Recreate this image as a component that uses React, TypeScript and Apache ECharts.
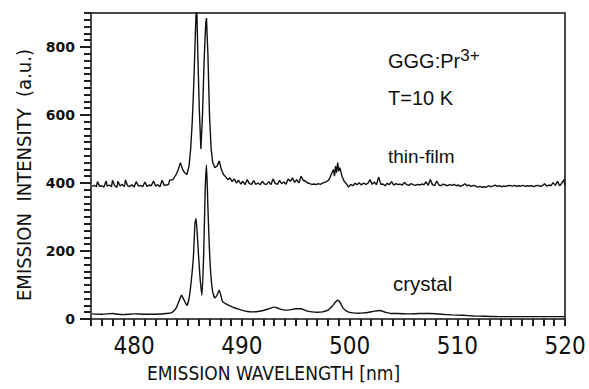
import React, { useEffect, useRef } from "react";
import * as echarts from "echarts";

const xMajorTicks = [480, 490, 500, 510, 520];
const yMajorTicks = [0, 200, 400, 600, 800];

const crystal: [number, number][] = [
  [476.1, 15], [477, 14], [478, 16], [478.5, 14], [479, 13], [480, 15], [481, 14], [482, 14],
  [483, 16], [483.5, 19], [483.9, 32], [484.2, 55], [484.4, 70], [484.6, 58], [484.9, 40],
  [485.1, 60], [485.3, 110], [485.5, 180], [485.65, 280], [485.75, 296], [485.9, 230],
  [486.1, 130], [486.3, 70], [486.45, 180], [486.6, 380], [486.72, 453], [486.85, 330],
  [487.0, 200], [487.15, 120], [487.3, 80], [487.5, 62], [487.7, 70], [487.9, 85],
  [488.05, 70], [488.2, 52], [488.5, 45], [488.8, 40], [489.2, 34], [489.6, 30], [490.0, 26],
  [490.5, 22], [491.0, 21], [491.5, 22], [492.0, 25], [492.5, 30], [493.0, 35], [493.5, 30],
  [494.0, 26], [494.5, 27], [495.0, 30], [495.5, 30], [496.0, 24], [496.5, 21], [497.0, 20],
  [497.5, 21], [498.0, 26], [498.4, 38], [498.7, 50], [498.9, 55], [499.1, 50], [499.4, 32],
  [499.8, 22], [500.3, 18], [500.8, 17], [501.3, 18], [501.8, 20], [502.3, 23], [502.8, 25],
  [503.3, 20], [503.8, 16], [504.5, 16], [505.5, 15], [506.5, 16], [507.5, 16], [508.5, 14],
  [509.5, 12], [510.5, 11], [511.5, 9], [512.5, 8], [514, 7], [516, 7], [518, 7], [520, 7],
];

const thinFilm: [number, number][] = [
  [476.1, 390], [476.3, 393], [476.5, 389], [476.6, 404], [476.8, 390], [477.0, 392],
  [477.2, 388], [477.4, 406], [477.5, 391], [477.7, 394], [477.9, 389], [478.0, 408],
  [478.2, 392], [478.4, 387], [478.5, 405], [478.7, 391], [478.9, 396], [479.1, 389],
  [479.2, 409], [479.4, 392], [479.6, 390], [479.8, 395], [480.0, 388], [480.2, 404],
  [480.4, 391], [480.6, 393], [480.8, 389], [481.0, 403], [481.2, 390], [481.4, 394],
  [481.6, 392], [481.8, 406], [482.0, 391], [482.2, 395], [482.4, 389], [482.6, 408],
  [482.8, 393], [483.0, 394], [483.2, 396], [483.3, 408], [483.6, 410], [483.9, 425],
  [484.1, 440], [484.3, 460], [484.5, 440], [484.7, 430], [484.9, 425], [485.1, 450],
  [485.25, 500], [485.4, 580], [485.55, 700], [485.7, 850], [485.8, 950], [485.9, 800],
  [486.05, 620], [486.2, 500], [486.35, 600], [486.5, 760], [486.65, 870], [486.72, 885],
  [486.85, 780], [487.0, 600], [487.15, 500], [487.3, 460], [487.5, 445], [487.7, 450],
  [487.9, 465], [488.1, 440], [488.3, 425], [488.5, 418], [488.7, 410], [488.9, 415],
  [489.1, 404], [489.3, 412], [489.5, 400], [489.7, 408], [489.9, 397], [490.1, 405],
  [490.3, 395], [490.5, 410], [490.7, 398], [490.9, 396], [491.1, 407], [491.3, 396],
  [491.5, 400], [491.7, 395], [491.9, 405], [492.1, 397], [492.3, 396], [492.5, 404],
  [492.7, 395], [492.9, 412], [493.1, 399], [493.3, 396], [493.5, 408], [493.7, 398],
  [493.9, 403], [494.1, 396], [494.3, 412], [494.5, 405], [494.7, 415], [494.9, 402],
  [495.1, 410], [495.3, 400], [495.5, 420], [495.7, 408], [495.9, 406], [496.1, 400],
  [496.3, 398], [496.5, 396], [496.7, 397], [496.9, 395], [497.1, 398], [497.3, 396],
  [497.5, 400], [497.7, 402], [497.9, 405], [498.1, 410], [498.3, 425], [498.5, 440],
  [498.6, 420], [498.7, 450], [498.8, 430], [498.9, 460], [499.0, 435], [499.1, 445],
  [499.3, 420], [499.5, 405], [499.7, 398], [499.9, 388], [500.1, 396], [500.3, 392],
  [500.5, 399], [500.7, 395], [500.9, 401], [501.1, 394], [501.3, 400], [501.5, 396],
  [501.7, 399], [501.9, 410], [502.1, 396], [502.3, 403], [502.5, 395], [502.7, 418],
  [502.9, 396], [503.1, 397], [503.3, 392], [503.5, 399], [503.7, 395], [503.9, 404],
  [504.1, 394], [504.3, 398], [504.5, 395], [504.7, 397], [504.9, 394], [505.1, 402],
  [505.3, 395], [505.5, 393], [505.7, 398], [505.9, 395], [506.1, 393], [506.3, 396],
  [506.5, 394], [506.7, 397], [506.9, 395], [507.1, 403], [507.3, 393], [507.5, 410],
  [507.7, 395], [507.9, 392], [508.1, 406], [508.3, 394], [508.5, 392], [508.7, 397],
  [508.9, 394], [509.1, 392], [509.3, 395], [509.5, 393], [509.7, 396], [509.9, 392],
  [510.1, 394], [510.3, 390], [510.5, 393], [510.7, 398], [510.9, 392], [511.1, 394],
  [511.3, 390], [511.5, 393], [511.7, 391], [511.9, 388], [512.1, 390], [512.3, 387],
  [512.5, 389], [512.7, 388], [512.9, 392], [513.1, 389], [513.3, 391], [513.5, 394],
  [513.7, 390], [513.9, 392], [514.1, 389], [514.3, 391], [514.5, 390], [514.7, 392],
  [514.9, 393], [515.1, 391], [515.3, 393], [515.5, 390], [515.7, 392], [515.9, 391],
  [516.1, 393], [516.3, 390], [516.5, 392], [516.7, 391], [516.9, 392], [517.1, 389],
  [517.3, 392], [517.5, 393], [517.7, 390], [517.9, 392], [518.1, 398], [518.3, 391],
  [518.5, 394], [518.7, 392], [518.9, 401], [519.1, 393], [519.3, 405], [519.5, 392],
  [519.7, 399], [519.9, 410], [520.0, 392],
];

const NARROW = "'DejaVu Sans Condensed', 'Liberation Sans Narrow', sans-serif";
const SANS = "'Liberation Sans', Arial, sans-serif";
const INK = "#111111";
const TICK = "#202020";

export default function App() {
  const ref = useRef<HTMLDivElement>(null);
  useEffect(() => {
    const chart = echarts.init(ref.current!, null, { renderer: "svg" });
    chart.setOption({
      animation: false,
      backgroundColor: "#fff",
      grid: {
        left: 91, right: 24, top: 13, bottom: 70,
        show: true, borderColor: INK, borderWidth: 1.5, backgroundColor: "transparent",
      },
      xAxis: {
        type: "value", min: 476, max: 520, interval: 1, position: "bottom",
        axisLine: { show: false, onZero: false },
        axisTick: { show: true, inside: false, length: 7, lineStyle: { color: TICK, width: 2 } },
        axisLabel: {
          show: true, margin: 15, color: INK, fontFamily: NARROW, fontSize: 24,
          formatter: (v: number) => (xMajorTicks.includes(v) ? String(v) : ""),
        },
        splitLine: { show: false },
      },
      yAxis: {
        type: "value", min: 0, max: 900, interval: 20, position: "left",
        axisLine: { show: false, onZero: false },
        axisTick: { show: true, inside: false, length: 7, lineStyle: { color: TICK, width: 2 } },
        axisLabel: {
          show: true, margin: 16, color: INK, fontFamily: "'DejaVu Sans', sans-serif",
          fontSize: 14, fontWeight: "bold",
          formatter: (v: number) => (yMajorTicks.includes(v) ? String(v) : ""),
        },
        splitLine: { show: false },
      },
      series: [
        {
          type: "line", name: "thin-film", data: thinFilm,
          showSymbol: false, symbol: "none", clip: true,
          lineStyle: { color: INK, width: 1.4 },
        },
        {
          type: "line", name: "crystal", data: crystal,
          showSymbol: false, symbol: "none", clip: true, smooth: 0.2,
          lineStyle: { color: INK, width: 1.4 },
        },
        {
          type: "custom", name: "yMajor", silent: true, clip: false, z: 5,
          data: yMajorTicks.map((v) => [476, v]),
          renderItem: (_p: any, api: any) => {
            const pt = api.coord([476, api.value(1)]);
            return {
              type: "line",
              shape: { x1: pt[0] - 11, y1: pt[1], x2: pt[0], y2: pt[1] },
              style: { stroke: TICK, lineWidth: 2 },
            };
          },
        },
      ],
      graphic: [
        {
          type: "text", left: 147, top: 363,
          style: { text: "EMISSION WAVELENGTH [nm]", fill: INK, font: `19px ${NARROW}` },
        },
        {
          type: "text", x: 24, y: 175, rotation: Math.PI / 2,
          style: {
            text: "EMISSION  INTENSITY  (a.u.)", fill: INK, font: `20px ${NARROW}`,
            align: "center", verticalAlign: "middle",
          },
        },
        {
          type: "text", x: 388, y: 61,
          style: {
            text: "{b|GGG:Pr}{s|3+}", verticalAlign: "middle",
            rich: {
              b: { font: `20px ${SANS}`, fill: INK },
              s: { font: `17px ${SANS}`, fill: INK, verticalAlign: "bottom", padding: [0, 0, 12, 0] },
            },
          },
        },
        {
          type: "text", x: 388, y: 98,
          style: { text: "T=10 K", fill: INK, font: `20px ${SANS}`, verticalAlign: "middle" },
        },
        {
          type: "text", x: 388, y: 156,
          style: { text: "thin-film", fill: INK, font: `19px ${SANS}`, verticalAlign: "middle" },
        },
        {
          type: "text", x: 393, y: 283,
          style: { text: "crystal", fill: INK, font: `20.5px ${SANS}`, verticalAlign: "middle" },
        },
      ],
    });
    return () => chart.dispose();
  }, []);
  return (
    <div
      ref={ref}
      style={{ position: "fixed", left: 0, top: 0, width: 589, height: 389, background: "#fff" }}
    />
  );
}
